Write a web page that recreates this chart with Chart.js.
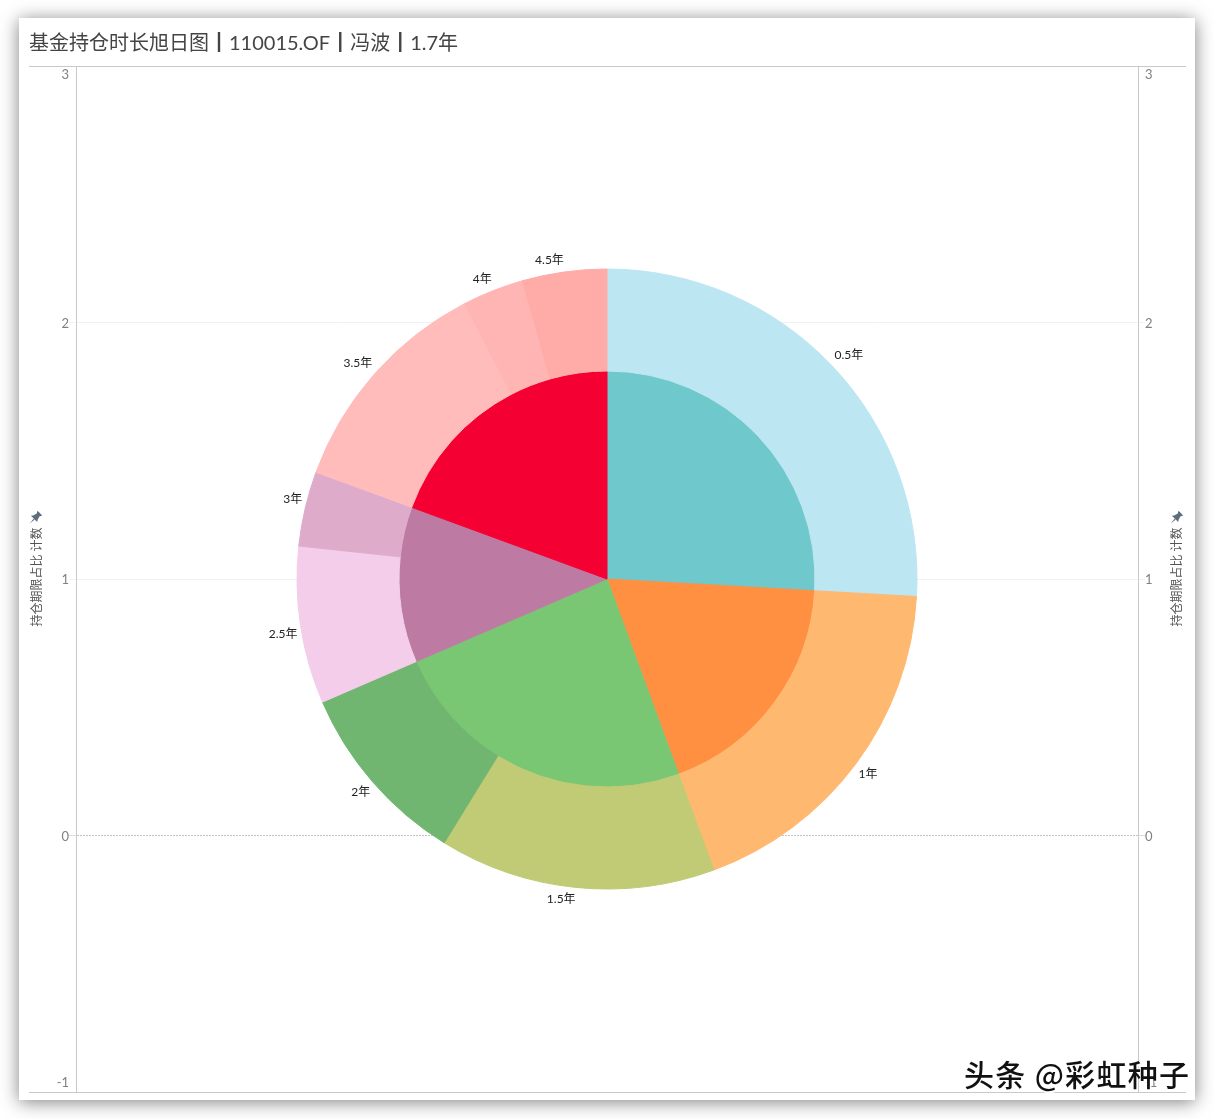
<!DOCTYPE html>
<html lang="zh">
<head>
<meta charset="utf-8">
<script src="https://cdn.jsdelivr.net/npm/chart.js@4/dist/chart.umd.js"></script>
<style>
html,body{margin:0;padding:0;background:#fff;width:1215px;height:1119px;overflow:hidden}
#card{position:absolute;left:19px;top:18px;width:1176px;height:1082px;background:#fff;box-shadow:0 2px 17px rgba(0,0,0,.5)}
canvas{position:absolute;left:0;top:0}
.rule{position:absolute;left:29px;width:1157px;height:1px;background:#c9c9c9}
.pin{position:absolute;width:14px;height:14px}
#mark{position:absolute;left:964px;top:1051px;font:500 30px "Noto Sans CJK SC";color:#111;white-space:nowrap;text-shadow:1px 2px 0 #fff,-1px -1px 0 #fff;letter-spacing:1.3px}
</style>
</head>
<body>
<div id="card"></div>
<canvas id="c" width="1215" height="1119"></canvas>
<div class="rule" style="top:66px"></div>
<div class="rule" style="top:1092px"></div>
<svg class="pin" style="left:29px;top:510px" viewBox="0 0 14 14"><path fill="#5d6d7e" d="M8.6 0.8 13.2 5.4 11.8 6 10.6 6.2 8.6 9.8 8.2 12 1.9 5.8 4.2 5.4 7.8 3.4 8 2.2zM4.5 8.8 5.5 9.8 1 13.2z"/></svg>
<svg class="pin" style="left:1170px;top:510px" viewBox="0 0 14 14"><path fill="#5d6d7e" d="M8.6 0.8 13.2 5.4 11.8 6 10.6 6.2 8.6 9.8 8.2 12 1.9 5.8 4.2 5.4 7.8 3.4 8 2.2zM4.5 8.8 5.5 9.8 1 13.2z"/></svg>
<div id="mark">头条 @彩虹种子</div>
<script>
const titleText = '基金持仓时长旭日图┃110015.OF┃冯波┃1.7年';
const axisTitle = '持仓期限占比 计数';
const outerLabels = ['0.5年','1年','1.5年','2年','2.5年','3年','3.5年','4年','4.5年'];
const outerValues = [25.9,18.5,14.4,9.7,8.2,3.9,11.8,3.2,4.4];
const innerValues = [25.9,18.5,24.1,12.1,19.4];
const outerColors = ['#bce6f2','#ffb86f','#c1ca75','#70b670','#f3cde9','#dfabcb','#ffbcbb','#ffb5b3','#ffaba8'];
const innerColors = ['#6fc8cb','#ff8f41','#7ac773','#bd7ba4','#f50032'];
const FONT = 'Lato, "Noto Sans CJK SC", sans-serif';

class ClampedLinear extends Chart.LinearScale {
  _computeLabelItems(area){
    const items = super._computeLabelItems(area);
    items.forEach(it => {
      const t = it.options.translation;
      t[1] = Math.min(Math.max(t[1], this.top + 8), this.bottom - 10) + 1;
    });
    return items;
  }
}
ClampedLinear.id = 'clampedLinear';
ClampedLinear.defaults = Chart.LinearScale.defaults;
Chart.register(ClampedLinear);

const sliceLabels = {
  id:'sliceLabels',
  afterDatasetsDraw(chart){
    const ctx = chart.ctx, meta = chart.getDatasetMeta(0);
    ctx.save();
    ctx.font = '12px ' + FONT;
    ctx.fillStyle = '#222';
    ctx.textBaseline = 'middle';
    meta.data.forEach((arc,i) => {
      const a = (arc.startAngle + arc.endAngle) / 2;
      const r = arc.outerRadius + 3;
      const c = Math.cos(a), s = Math.sin(a);
      ctx.textAlign = c > 0 ? 'left' : 'right';
      ctx.fillText(outerLabels[i], arc.x + r*c, arc.y + r*s + (s > 0 ? 8.5 : -9));
    });
    ctx.restore();
  }
};
const axisTitles = {
  id:'axisTitles',
  afterDraw(chart){
    const ctx = chart.ctx;
    [37,1177].forEach(x => {
      ctx.save();
      ctx.translate(x,577);
      ctx.rotate(-Math.PI/2);
      ctx.font = '12px ' + FONT;
      ctx.fillStyle = '#555';
      ctx.textAlign = 'center';
      ctx.textBaseline = 'middle';
      ctx.fillText(axisTitle,0,0);
      ctx.restore();
    });
  }
};
const yAxis = (position, drawGrid, w) => ({
  type:'clampedLinear', position, min:-1, max:3,
  afterFit(s){ s.width = w; },
  ticks:{stepSize:1, color:'#808080', font:{family:FONT,size:13}, padding:0},
  grid:{
    display:true, drawOnChartArea:drawGrid, drawTicks:true, tickLength:7,
    color:c => (c.tick && c.tick.value === 0) ? '#c4c4c4' : '#f1f1f1',
    tickColor:c => (c.tick && c.tick.value === 0) ? '#dcdcdc' : '#f1f1f1'
  },
  border:{display:true,color:'#c9c9c9',dash:c => (c.tick && c.tick.value === 0) ? [2,1] : []}
});
new Chart(document.getElementById('c'),{
  type:'doughnut',
  data:{
    labels:outerLabels,
    datasets:[
      {data:outerValues,backgroundColor:outerColors,borderColor:outerColors,borderWidth:1,weight:102},
      {data:innerValues,backgroundColor:innerColors,borderColor:innerColors,borderWidth:1,weight:208}
    ]
  },
  plugins:[sliceLabels,axisTitles],
  options:{
    responsive:false, animation:false, devicePixelRatio:1,
    radius:310, cutout:0,
    layout:{padding:{left:29,right:29,top:31,bottom:27}},
    scales:{ y:yAxis('left',true,47), y2:yAxis('right',false,48) },
    plugins:{
      legend:{display:false},
      tooltip:{enabled:false},
      title:{display:true,text:titleText,align:'start',color:'#444',
        font:{family:FONT,size:20,weight:'normal',lineHeight:1.25},padding:{top:0,bottom:10}}
    }
  }
});
</script>
</body>
</html>
